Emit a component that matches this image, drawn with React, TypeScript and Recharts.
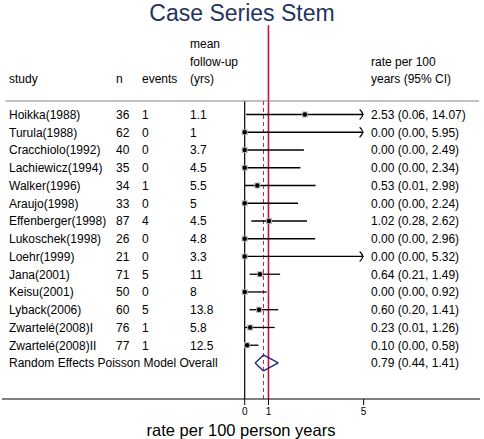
import React from "react";
import { ComposedChart, XAxis, YAxis, Scatter, ReferenceLine } from "recharts";

// study table
const studies = [
  "Hoikka(1988)",
  "Turula(1988)",
  "Cracchiolo(1992)",
  "Lachiewicz(1994)",
  "Walker(1996)",
  "Araujo(1998)",
  "Effenberger(1998)",
  "Lukoschek(1998)",
  "Loehr(1999)",
  "Jana(2001)",
  "Keisu(2001)",
  "Lyback(2006)",
  "Zwartelé(2008)I",
  "Zwartelé(2008)II",
];
const patients = [36, 62, 40, 35, 34, 33, 87, 26, 21, 71, 50, 60, 76, 77];
const events = [1, 0, 0, 0, 1, 0, 4, 0, 0, 5, 0, 5, 1, 1];
const followUp = ["1.1", "1", "3.7", "4.5", "5.5", "5", "4.5", "4.8", "3.3", "11", "8", "13.8", "5.8", "12.5"];
const rate = [2.53, 0, 0, 0, 0.53, 0, 1.02, 0, 0, 0.64, 0, 0.6, 0.23, 0.1];
const lower = [0.06, 0, 0, 0, 0.01, 0, 0.28, 0, 0, 0.21, 0, 0.2, 0.01, 0.0];
const upper = [14.07, 5.95, 2.49, 2.34, 2.98, 2.24, 2.62, 2.96, 5.32, 1.49, 0.92, 1.41, 1.26, 0.58];

const overallLabel = "Random Effects Poisson Model Overall";
const overall = { rate: 0.79, lower: 0.44, upper: 1.41 };

const headerLines = [
  ["", "", "", "mean", ""],
  ["", "", "", "follow-up", "rate per 100"],
  ["study", "n", "events", "(yrs)", "years (95% CI)"],
];
const xTicks = [0, 1, 5];

const FONT = '"Liberation Sans", Arial, Helvetica, sans-serif';
const NAVY = "#1f3462";
const DIAMOND = "#1d2a78";
const RED = "#c3113a";
const DASH = "#b02a4c";
const CLIP = 5; // CIs beyond this get an arrow
const COLS = [9, 116, 142, 190, 371];
const TOP = -0.76; // header rule / top of the plot lines
const BOTTOM = 16.03;

const fmt = (v: number) => v.toFixed(2);

const rows = studies.map((study, i) => ({
  x: 0,
  y: i,
  cells: [study, String(patients[i]), String(events[i]), followUp[i], `${fmt(rate[i])} (${fmt(lower[i])}, ${fmt(upper[i])})`],
}));
const overallRow = studies.length;
rows.push({
  x: 0,
  y: overallRow,
  cells: [overallLabel, "", "", "", `${fmt(overall.rate)} (${fmt(overall.lower)}, ${fmt(overall.upper)})`],
});
// header block sits one blank row above the first study
const headers = headerLines.map((cells, i) => ({ x: 0, y: i - headerLines.length - 1, cells }));
const headerRule = [
  { x: -10.05, y: TOP },
  { x: 9.85, y: TOP },
];

const points = studies.map((_, i) => ({ x: rate[i], y: i }));
const arrows = studies.map((_, i) => ({ x: CLIP, y: i, over: upper[i] > CLIP })).filter((d) => d.over);

const TextRow = (props: any) => {
  const { cy, payload } = props;
  return (
    <g>
      {payload.cells.map((c: string, j: number) =>
        c ? (
          <text key={j} x={COLS[j]} y={cy + 4.3} fontSize={12} fontFamily={FONT} fill="#000">
            {c}
          </text>
        ) : null
      )}
    </g>
  );
};

const Dot = (props: any) => {
  const { cx, cy } = props;
  return (
    <g>
      <rect x={cx - 3} y={cy - 3} width={6} height={6} fill="#b4b4b4" />
      <circle cx={cx} cy={cy} r={2.2} fill="#000" />
    </g>
  );
};

const Arrow = (props: any) => {
  const { cx, cy } = props;
  return <path d={`M${cx - 4},${cy - 5} Q${cx + 2},${cy} ${cx - 4},${cy + 5}`} stroke="#000" strokeWidth={1.2} fill="none" />;
};

const NoMark = () => <g />;

export default function App() {
  const dh = 0.45;
  const o = overall;
  return (
    <div style={{ position: "fixed", left: 0, top: 0, width: 484, height: 439, background: "#fff", fontFamily: FONT }}>
      <svg width={484} height={30} style={{ position: "absolute", left: 0, top: 0 }}>
        <text x={242} y={20.7} textAnchor="middle" fontSize={23} fontFamily={FONT} fill={NAVY}>
          Case Series Stem
        </text>
      </svg>
      <ComposedChart width={484} height={439} margin={{ top: 0, right: 4, bottom: 0, left: 2 }}>
        <XAxis
          type="number"
          dataKey="x"
          domain={[-10.2, 9.89]}
          ticks={xTicks}
          allowDataOverflow
          height={40}
          tickSize={6}
          tickMargin={3}
          tick={{ fontSize: 10, fill: "#000", fontFamily: FONT }}
          tickLine={{ stroke: "#000" }}
          axisLine={{ stroke: "#000" }}
          label={{ value: "rate per 100 person years", position: "insideBottom", offset: 3, fontSize: 16.5, fill: "#000", fontFamily: FONT }}
        />
        <YAxis type="number" dataKey="y" domain={[-6.45, 16.03]} reversed hide allowDataOverflow />

        <ReferenceLine segment={[{ x: 0, y: TOP }, { x: 0, y: BOTTOM }]} stroke="#000" strokeWidth={1.2} ifOverflow="visible" />
        <ReferenceLine
          segment={[{ x: o.rate, y: TOP }, { x: o.rate, y: BOTTOM }]}
          stroke={DASH}
          strokeWidth={1}
          strokeDasharray="4 3"
          ifOverflow="visible"
        />
        <ReferenceLine segment={[{ x: 1, y: -5.03 }, { x: 1, y: BOTTOM }]} stroke={RED} strokeWidth={1.6} ifOverflow="visible" />

        {studies.map((s, i) => (
          <ReferenceLine
            key={s}
            segment={[{ x: lower[i], y: i }, { x: Math.min(upper[i], CLIP), y: i }]}
            stroke="#000"
            strokeWidth={1.3}
            ifOverflow="visible"
          />
        ))}

        <ReferenceLine segment={[{ x: o.lower, y: overallRow }, { x: o.rate, y: overallRow - dh }]} stroke={DIAMOND} strokeWidth={1.4} ifOverflow="visible" />
        <ReferenceLine segment={[{ x: o.rate, y: overallRow - dh }, { x: o.upper, y: overallRow }]} stroke={DIAMOND} strokeWidth={1.4} ifOverflow="visible" />
        <ReferenceLine segment={[{ x: o.upper, y: overallRow }, { x: o.rate, y: overallRow + dh }]} stroke={DIAMOND} strokeWidth={1.4} ifOverflow="visible" />
        <ReferenceLine segment={[{ x: o.rate, y: overallRow + dh }, { x: o.lower, y: overallRow }]} stroke={DIAMOND} strokeWidth={1.4} ifOverflow="visible" />

        <Scatter data={headerRule} shape={NoMark} line={{ stroke: "#8c7f85", strokeWidth: 1 }} isAnimationActive={false} />
        <Scatter data={points} shape={Dot} isAnimationActive={false} />
        <Scatter data={arrows} shape={Arrow} isAnimationActive={false} />
        <Scatter data={rows} shape={TextRow} isAnimationActive={false} />
        <Scatter data={headers} shape={TextRow} isAnimationActive={false} />
      </ComposedChart>
    </div>
  );
}
